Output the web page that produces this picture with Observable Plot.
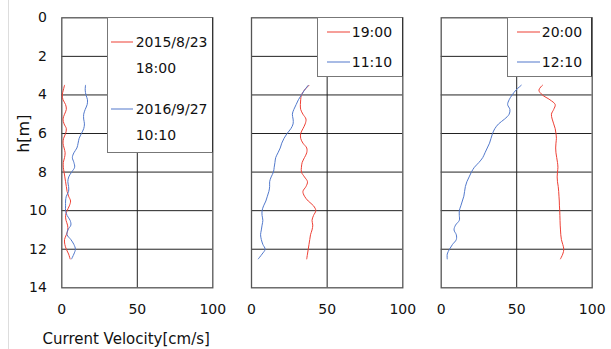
<!DOCTYPE html>
<html>
<head>
<meta charset="utf-8">
<script src="https://cdn.jsdelivr.net/npm/d3@7"></script>
<script src="https://cdn.jsdelivr.net/npm/@observablehq/plot@0.6"></script>
<style>
  body { margin: 0; background: #fff; font-family: "DejaVu Sans", Verdana, sans-serif; }
  #wrap { position: relative; width: 611px; height: 349px; overflow: hidden; }
  #wrap svg { position: absolute; top: 0; }
  .edge { position: absolute; left: 8px; top: 0; width: 0; height: 349px; border-left: 1px solid #ddd; }
  .leg { position: absolute; background: #fff; border: 1.3px solid #777; box-sizing: border-box; border-right-color: #333; }
  .sw { position: absolute; height: 0; border-top: 1px solid; transform: translateY(-0.5px); }
  .lt { position: absolute; font-size: 14px; line-height: 16px; transform: translateY(-50%); color: #111; white-space: nowrap; }
</style>
</head>
<body>
<div id="wrap"><div class="edge"></div></div>
<script>
// depth (m) of each sample, shared by all series
const depths = [3.5,3.75,4,4.25,4.5,4.75,5,5.25,5.5,5.75,6,6.25,6.5,6.75,7,7.25,7.5,7.75,8,8.25,8.5,8.75,9,9.25,9.5,9.75,10,10.25,10.5,10.75,11,11.25,11.5,11.75,12,12.25,12.5];

// Panel 1
const p1Red  = [1.8,1.0,0.3,0.8,2.5,3.0,1.8,0.8,1.5,3.0,2.5,1.2,0.8,1.5,2.2,1.8,1.0,1.0,1.5,2.0,2.5,3.0,3.5,4.5,5.8,5.0,3.5,2.5,2.8,3.8,4.0,3.0,1.8,2.0,3.0,4.5,5.5];
const p1Blue = [15.7,15.5,16,17,16.8,15.5,14.5,14.5,15,14.5,13,11.5,10.8,10,8,7,8,8.5,6.5,4.6,4,4.5,4.5,3,2.5,2.5,2.5,3.5,5.5,6,4,3.5,6,8,9,8,6.5];
// Panel 2
const p2Red  = [38,35,33,32.5,32.3,32.5,34,36,35.5,34,32.5,32.5,34,36.5,36.5,35,33.5,33,33,35,37,36,34,35,37.5,41,42.5,41,40,40.5,40,39,38.5,38,37.5,37,36.5];
const p2Blue = [37.5,35,33,31,29.5,28,27,27.5,27.5,26,23.5,21.5,20,19,17.5,16,15.5,15,14.5,13,12,12,11.5,10.5,9.5,8,7,7,7.5,7,6.5,6,6.5,7.5,9,7,4.5];
// Panel 3
const p3Red  = [67,64.7,67,72,75.5,74.5,73,73.5,74.5,75.5,76,76.3,76,75.8,76,76.5,77,77.3,77,76.8,77,77.5,77.8,78,78.2,78.3,78.5,78.6,78.7,78.8,79,79.2,79.6,80.5,81.2,80.5,79];
const p3Blue = [53,49.5,47,45,44,45.5,45,42,38,35.5,34,33,32,30.5,29,27.5,25,22,20,18.5,17,16,15.5,15,14,13,12,12,12,9.5,8.5,10,10,7.5,5.5,4,4];

const legendLabels = [["2015/8/23", "18:00", "2016/9/27", "10:10"], ["19:00", "11:10"], ["20:00", "12:10"]];
const xTicks = [0, 50, 100];
const yTicks = [0, 2, 4, 6, 8, 10, 12, 14];
const yGrid = [2, 4, 6, 8, 10, 12];
const xGrid = [50];
const xTitle = "Current Velocity[cm/s]";
const yTitle = "h[m]";

const RED = "#ee4035", BLUE = "#5279cc";
const rows = vals => vals.map((v, i) => ({v, h: depths[i]}));

const panels = [
  {left: 0,   width: 230, ml: 61.3, mr: 17.7, red: p1Red, blue: p1Blue, yAxis: true},
  {left: 230, width: 190, ml: 21,   mr: 17.7, red: p2Red, blue: p2Blue},
  {left: 420, width: 191, ml: 20.7, mr: 19.3, red: p3Red, blue: p3Blue}
];

const wrap = document.getElementById("wrap");
panels.forEach((p, idx) => {
  const marks = [
    Plot.ruleY(yGrid, {stroke: "#222", strokeWidth: 1}),
    Plot.ruleX(xGrid, {stroke: "#222", strokeWidth: 1}),
    Plot.frame({stroke: "#555", strokeWidth: 1.3}),
    Plot.line(rows(p.red), {x: "v", y: "h", stroke: RED, strokeWidth: 1, curve: "catmull-rom"}),
    Plot.line(rows(p.blue), {x: "v", y: "h", stroke: BLUE, strokeWidth: 1, curve: "catmull-rom"}),
    Plot.axisX(xTicks, {tickSize: 0, tickPadding: 16.5, label: null, fontSize: 14, fill: "#111"})
  ];
  if (p.yAxis) {
    marks.push(Plot.axisY(yTicks, {tickSize: 0, tickPadding: 15, label: null, fontSize: 14, fill: "#111"}));
    marks.push(Plot.text([yTitle], {frameAnchor: "left", rotate: -90, dx: -38, fontSize: 16, fill: "#111"}));
    marks.push(Plot.text([xTitle], {frameAnchor: "bottom-left", textAnchor: "start", lineAnchor: "middle", dx: -19.3, dy: 51, fontSize: 15, fill: "#111"}));
  }
  const svg = Plot.plot({
    width: p.width, height: 349,
    marginTop: 17.3, marginBottom: 61.7, marginLeft: p.ml, marginRight: p.mr,
    x: {domain: [0, 100]},
    y: {domain: [0, 14], reverse: true, axis: p.yAxis ? undefined : null},
    style: {fontFamily: "DejaVu Sans", fontSize: "14px", background: "transparent"},
    marks
  });
  svg.style.left = p.left + "px";
  wrap.appendChild(svg);
});

// In-plot legend boxes (HTML overlay)
function legend(box, items) {
  const d = document.createElement("div");
  d.className = "leg";
  Object.assign(d.style, {left: box.l + "px", top: box.t + "px", width: (box.r - box.l) + "px", height: (box.b - box.t) + "px"});
  items.forEach(it => {
    if (it.color) {
      const s = document.createElement("div");
      s.className = "sw";
      Object.assign(s.style, {left: it.sx0 + "px", width: (it.sx1 - it.sx0) + "px", top: it.y + "px", borderTopColor: it.color});
      d.appendChild(s);
    }
    const t = document.createElement("div");
    t.className = "lt";
    t.textContent = it.text;
    Object.assign(t.style, {left: it.tx + "px", top: it.y + "px"});
    d.appendChild(t);
  });
  wrap.appendChild(d);
}
const L1 = legendLabels[0];
legend({l: 106.7, t: 17.3, r: 212.6, b: 153}, [
  {color: RED, sx0: 3.3, sx1: 25.6, tx: 28, y: 23.5, text: L1[0]},
  {tx: 28, y: 49.5, text: L1[1]},
  {color: BLUE, sx0: 3.3, sx1: 25.6, tx: 28, y: 90.8, text: L1[2]},
  {tx: 28, y: 116.8, text: L1[3]}
]);
[[317.3, 402.6, legendLabels[1]], [507.3, 592, legendLabels[2]]].forEach(([l, r, lab]) => {
  legend({l, t: 17.3, r, b: 77}, [
    {color: RED, sx0: 8.5, sx1: 31.8, tx: 33.5, y: 14, text: lab[0]},
    {color: BLUE, sx0: 8.5, sx1: 31.8, tx: 33.5, y: 43.4, text: lab[1]}
  ]);
});
</script>
</body>
</html>
